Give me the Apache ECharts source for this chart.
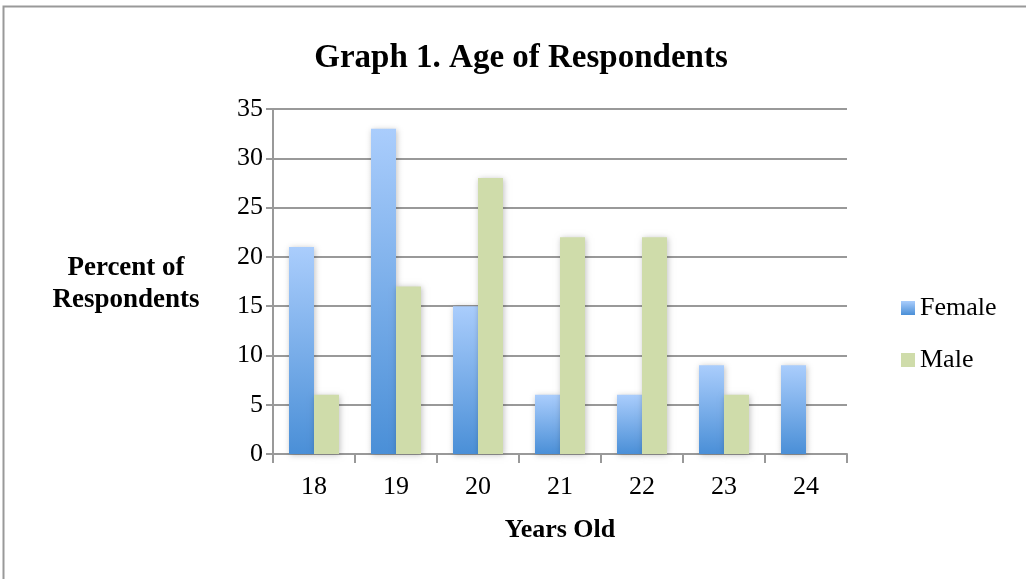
<!DOCTYPE html>
<html><head><meta charset="utf-8">
<script src="https://cdn.jsdelivr.net/npm/echarts@6/dist/echarts.min.js"></script>
<style>html,body{margin:0;padding:0;background:#fff}#c{width:1026px;height:579px}</style>
</head><body><div id="c"></div>
<script>
const categories = ['18','19','20','21','22','23','24'];
const femaleValues = [21, 33, 15, 6, 6, 9, 9];
const maleValues = [6, 17, 28, 22, 22, 6, null];
const yTicks = {min: 0, max: 35, interval: 5};

const serif = '"Liberation Serif", "DejaVu Serif", serif';
const femaleColor = new echarts.graphic.LinearGradient(0,0,0,1,[{offset:0,color:'#aacdfc'},{offset:1,color:'#4a8fd7'}]);
const maleColor = '#cfdcaa';
const chart = echarts.init(document.getElementById('c'));
chart.setOption({
  animation: false,
  backgroundColor: '#fff',
  title: {text: 'Graph 1. Age of Respondents', left: 516, textAlign: 'center', top: 37,
    textStyle: {fontFamily: serif, fontWeight: 'bold', fontSize: 33, color: '#000'}},
  legend: {orient: 'vertical', left: 896, top: 290, itemWidth: 14, itemHeight: 14, itemGap: 26,
    textStyle: {fontFamily: serif, fontSize: 26, color: '#000'},
    data: [{name:'Female', icon:'rect'}, {name:'Male', icon:'rect'}]},
  grid: {left: 273, top: 109, width: 574, height: 345},
  xAxis: {type: 'category', data: categories,
    axisLine: {lineStyle: {color: '#999', width: 2}},
    axisTick: {show: true, length: 9, lineStyle: {color: '#999', width: 2}},
    axisLabel: {fontFamily: serif, fontSize: 26, color: '#000', margin: 20},
    name: 'Years Old', nameLocation: 'middle', nameGap: 63,
    nameTextStyle: {fontFamily: serif, fontWeight: 'bold', fontSize: 26, color: '#000'}},
  yAxis: {type: 'value', min: yTicks.min, max: yTicks.max, interval: yTicks.interval,
    axisLine: {show: true, lineStyle: {color: '#999', width: 2}},
    axisTick: {show: true, length: 7, lineStyle: {color: '#999', width: 2}},
    splitLine: {lineStyle: {color: '#999', width: 2}},
    axisLabel: {fontFamily: serif, fontSize: 26, color: '#000', margin: 10}},
  graphic: [
    {type: 'rect', shape: {x: 3.5, y: 6.5, width: 1040, height: 600}, style: {fill: 'none', stroke: '#999', lineWidth: 2}, silent: true},
    {type: 'text', style: {text: 'Percent of\nRespondents', x: 126, y: 252, textAlign: 'center', fontFamily: serif, fontWeight: 'bold', fontSize: 27, lineHeight: 32, fill: '#000'}}
  ],
  series: [
    {name: 'Female', type: 'bar', data: femaleValues, barWidth: 25, barGap: '0%',
      itemStyle: {color: femaleColor, shadowColor: 'rgba(0,0,0,0.25)', shadowBlur: 6, shadowOffsetX: 1, shadowOffsetY: 1}},
    {name: 'Male', type: 'bar', data: maleValues, barWidth: 25,
      itemStyle: {color: maleColor, shadowColor: 'rgba(0,0,0,0.25)', shadowBlur: 6, shadowOffsetX: 1, shadowOffsetY: 1}}
  ]
});
</script></body></html>
